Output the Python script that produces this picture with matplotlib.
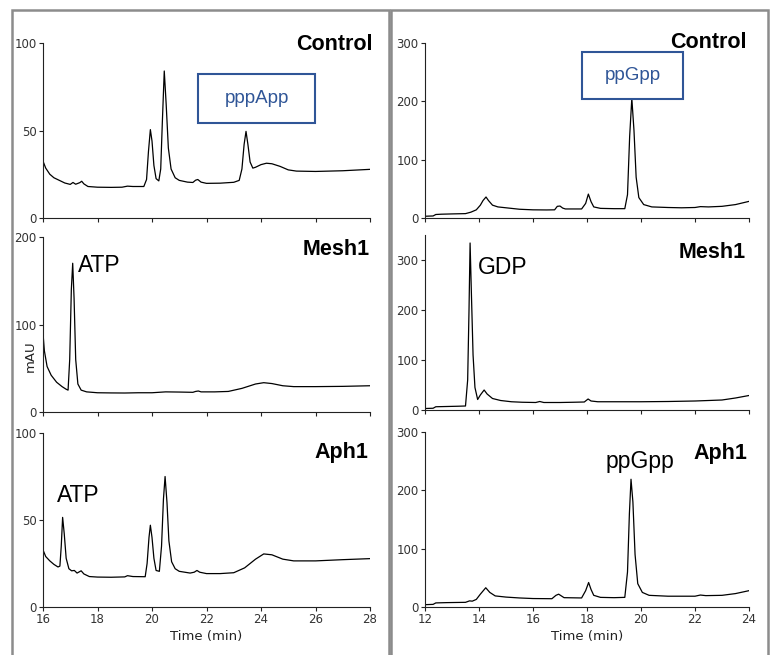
import matplotlib
matplotlib.use('Agg')
import matplotlib.pyplot as plt
from matplotlib.patches import Rectangle

# HPLC traces: time (min), absorbance (mAU)
ctrl_a_t = [16.0, 16.1, 16.25, 16.4, 16.6, 16.8, 17.0, 17.1, 17.2, 17.35, 17.42, 17.5, 17.65,
            18.0, 18.5, 18.9, 19.1, 19.3, 19.7, 19.8, 19.87, 19.94, 20.0, 20.07, 20.15, 20.25,
            20.32, 20.38, 20.45, 20.52, 20.6, 20.7, 20.85, 21.0, 21.3, 21.5, 21.6, 21.68, 21.8,
            22.0, 22.5, 23.0, 23.2, 23.3, 23.38, 23.45, 23.52, 23.6, 23.7, 23.8, 24.0, 24.2,
            24.4, 24.7, 25.0, 25.3, 26.0, 27.0, 28.0]
ctrl_a_y = [32.5, 28.5, 25, 23, 21.5, 20, 19.2, 20.3, 19.3, 20.2, 21, 19.5, 18,
            17.6, 17.5, 17.6, 18.2, 18, 18, 22, 38, 50.5, 44, 30, 22.5, 21.2,
            28, 55, 84, 65, 40, 28, 23, 21.5, 20.5, 20.3, 21.6, 22, 20.5,
            19.8, 19.9, 20.4, 21.5, 28, 42, 49.5, 42, 32, 28.5, 29, 30.5, 31.3,
            31, 29.5, 27.5, 26.8, 26.6, 27.0, 27.8]

mesh_a_t = [16.0, 16.05, 16.15, 16.3, 16.5, 16.7, 16.85, 16.92, 16.98, 17.04, 17.09, 17.14,
            17.2, 17.28, 17.4, 17.6, 18.0, 18.5, 19.0, 19.5, 20.0, 20.5, 21.0, 21.5, 21.6,
            21.7, 21.8, 22.3, 22.8, 23.3, 23.8, 24.1, 24.4, 24.8, 25.2, 26.0, 27.0, 28.0]
mesh_a_y = [90, 70, 52, 42, 34, 29, 26, 25, 60, 140, 170, 130,
            60, 32, 25, 23, 22, 21.8, 21.7, 22, 22, 23, 22.8, 22.5, 23.5,
            24, 23, 23, 23.5, 27, 32, 33.5, 32.5, 30, 29, 29, 29.3, 30]

aph_a_t = [16.0, 16.1, 16.25, 16.4, 16.55, 16.62, 16.67, 16.72, 16.78, 16.85, 16.95, 17.05,
           17.15, 17.25, 17.4, 17.5, 17.7, 18.0, 18.5, 19.0, 19.1, 19.3, 19.75, 19.82, 19.89,
           19.94, 20.0, 20.07, 20.15, 20.27, 20.35, 20.42, 20.48, 20.55, 20.62, 20.72, 20.85,
           21.0, 21.4, 21.55, 21.65, 21.75, 22.0, 22.5, 23.0, 23.4, 23.8, 24.1, 24.4, 24.8,
           25.2, 26.0, 27.0, 28.0]
aph_a_y = [32.8, 29, 26.5, 24.5, 23, 23.5, 35, 51.5, 42, 28, 22, 20.8,
           21, 19.5, 20.8, 19, 17.5, 17.2, 17.1, 17.3, 18, 17.5, 17.4, 25, 40,
           47, 40, 28, 21, 20.5, 35, 62, 75, 60, 38, 26, 22,
           20.5, 19.5, 20, 21, 20, 19.2, 19.2, 19.7, 22.5, 27.5, 30.5, 30, 27.5,
           26.5, 26.5, 27.2, 27.8]

ctrl_g_t = [12.0, 12.3, 12.4, 12.6, 13.0, 13.5, 13.7, 13.9, 14.05, 14.15, 14.26, 14.35, 14.5,
            14.7, 15.0, 15.5, 16.0, 16.5, 16.8, 16.9, 17.0, 17.1, 17.2, 17.8, 17.95, 18.05,
            18.15, 18.25, 18.5, 19.0, 19.4, 19.5, 19.58, 19.66, 19.74, 19.82, 19.92, 20.1,
            20.4, 21.0, 21.5, 22.0, 22.2, 22.5, 23.0, 23.5, 24.0]
ctrl_g_y = [3, 3.5, 6, 6.5, 7, 7.5, 10, 14, 22, 30, 36, 30, 22,
            19, 17.5, 15, 14, 13.8, 14, 20, 20.5, 17, 15.5, 15.5, 25, 41,
            28, 19, 16.5, 16, 16, 40, 140, 205, 150, 70, 35, 23,
            19, 18, 17.5, 18, 19.5, 19, 20, 23, 28.5]

mesh_g_t = [12.0, 12.3, 12.4, 12.8, 13.2, 13.5, 13.58, 13.63, 13.67, 13.72, 13.78, 13.85,
            13.95, 14.05, 14.19, 14.3, 14.5, 14.8, 15.2, 15.6, 16.1, 16.25, 16.4, 17.0, 17.5,
            17.9, 18.04, 18.15, 18.4, 19.0, 20.0, 21.0, 22.0, 22.5, 23.0, 23.5, 24.0]
mesh_g_y = [3, 3.5, 6.5, 7, 7.5, 8, 60, 200, 334, 230, 110, 45,
            21, 30, 40, 32, 23, 19, 16.5, 15.5, 15, 17, 15, 15, 15.5,
            16, 22, 18, 16.5, 16.5, 16.5, 17, 18, 19, 20, 24, 29]

aph_g_t = [12.0, 12.3, 12.4, 12.8, 13.5, 13.65, 13.75, 13.9, 14.05, 14.25, 14.4, 14.6, 15.0,
           15.5, 16.0, 16.7, 16.85, 16.95, 17.05, 17.15, 17.8, 17.95, 18.06, 18.15, 18.25,
           18.5, 19.0, 19.4, 19.5, 19.57, 19.63, 19.7, 19.78, 19.88, 20.05, 20.3, 21.0, 22.0,
           22.2, 22.4, 23.0, 23.5, 24.0]
aph_g_y = [4, 4.5, 7, 7.5, 8, 10.5, 10, 13, 22, 33, 25, 19, 17,
           15.5, 14.5, 14.2, 20, 22, 19, 16, 15.5, 28, 42, 30, 20,
           16.5, 16, 16.5, 60, 160, 219, 180, 90, 40, 25, 20, 18.5, 18.5,
           20.5, 19.5, 20, 23, 28]

W, H = 773, 655
fig = plt.figure(figsize=(W / 100, H / 100), dpi=100)
fig.patch.set_facecolor('white')


def px_axes(x0, y0, x1, y1):
    # axes from pixel box (top-left origin)
    return fig.add_axes([x0 / W, 1 - y1 / H, (x1 - x0) / W, (y1 - y0) / H])


def style(ax, xlim, ylim, yticks, xticks, show_xlabels):
    ax.set_xlim(*xlim)
    ax.set_ylim(*ylim)
    ax.set_yticks(yticks)
    ax.set_xticks(xticks)
    for s in ['top', 'right']:
        ax.spines[s].set_visible(False)
    for s in ['left', 'bottom']:
        ax.spines[s].set_linewidth(0.8)
        ax.spines[s].set_color('#222222')
    ax.tick_params(direction='out', length=3, width=0.8, color='#222222',
                   labelsize=8.5, labelcolor='#333333', pad=1.5)
    if not show_xlabels:
        ax.set_xticklabels([])
    ax.patch.set_alpha(0)


lw = 0.9
# left column: pppApp / ATP
ax1 = px_axes(43, 43, 370, 218)
ax1.plot(ctrl_a_t, ctrl_a_y, color='black', lw=lw)
style(ax1, (16, 28), (0, 100), [0, 50, 100], range(16, 29, 2), False)

ax2 = px_axes(43, 237, 370, 412)
ax2.plot(mesh_a_t, mesh_a_y, color='black', lw=lw)
style(ax2, (16, 28), (0, 200), [0, 100, 200], range(16, 29, 2), False)

ax3 = px_axes(43, 433, 370, 607)
ax3.plot(aph_a_t, aph_a_y, color='black', lw=lw)
style(ax3, (16, 28), (0, 100), [0, 50, 100], range(16, 29, 2), True)
ax3.set_xlabel('Time (min)', fontsize=9.5, color='#222222', labelpad=3)

# right column: ppGpp / GDP
ax4 = px_axes(425, 43, 749, 218)
ax4.plot(ctrl_g_t, ctrl_g_y, color='black', lw=lw)
style(ax4, (12, 24), (0, 300), [0, 100, 200, 300], range(12, 25, 2), False)

ax5 = px_axes(425, 235, 749, 410)
ax5.plot(mesh_g_t, mesh_g_y, color='black', lw=lw)
style(ax5, (12, 24), (0, 350), [0, 100, 200, 300], range(12, 25, 2), False)

ax6 = px_axes(425, 432, 749, 607)
ax6.plot(aph_g_t, aph_g_y, color='black', lw=lw)
style(ax6, (12, 24), (0, 300), [0, 100, 200, 300], range(12, 25, 2), True)
ax6.set_xlabel('Time (min)', fontsize=9.5, color='#222222', labelpad=3)

fig.text(30 / W, 1 - 356 / H, 'mAU', rotation=90, ha='center', va='center',
         fontsize=9.5, color='#222222')

# sample names
bold = dict(fontsize=15.5, fontweight='bold', family='Liberation Sans', ha='right', va='center')
ax1.text(1.009, 0.99, 'Control', transform=ax1.transAxes, **bold)
ax2.text(1.0, 0.93, 'Mesh1', transform=ax2.transAxes, **bold)
ax3.text(0.994, 0.89, 'Aph1', transform=ax3.transAxes, **bold)
ax4.text(0.994, 1.0, 'Control', transform=ax4.transAxes, **bold)
ax5.text(0.99, 0.90, 'Mesh1', transform=ax5.transAxes, **bold)
ax6.text(0.994, 0.88, 'Aph1', transform=ax6.transAxes, **bold)

# peak labels
lab = dict(fontsize=16.5, family='Liberation Sans', ha='left', va='center')
ax2.text(17.28, 168, 'ATP', **lab)
ax3.text(16.51, 64, 'ATP', **lab)
ax5.text(13.96, 286, 'GDP', **lab)
ax6.text(18.67, 250, 'ppGpp', **lab)

# boxed product labels
blue = '#2F5597'
for ax, (bx0, by0, bx1, by1), name in [(ax1, (0.474, 0.543, 0.832, 0.823), 'pppApp'),
                                       (ax4, (0.485, 0.68, 0.796, 0.949), 'ppGpp')]:
    ax.add_patch(Rectangle((bx0, by0), bx1 - bx0, by1 - by0, transform=ax.transAxes,
                           facecolor='white', edgecolor=blue, lw=1.5, zorder=5, clip_on=False))
    ax.text((bx0 + bx1) / 2, (by0 + by1) / 2, name, transform=ax.transAxes, color=blue,
            fontsize=13.5, family='Liberation Sans', ha='center', va='center', zorder=6)

# grey panel frames
grey = '#8c8c8c'
for x0, x1 in [(12, 389), (391, 768)]:
    fig.add_artist(Rectangle((x0 / W, -0.05), (x1 - x0) / W, 1.05 - 10 / H,
                             transform=fig.transFigure, facecolor='none',
                             edgecolor=grey, lw=1.8, clip_on=False))

fig.savefig('out.png', dpi=100)
